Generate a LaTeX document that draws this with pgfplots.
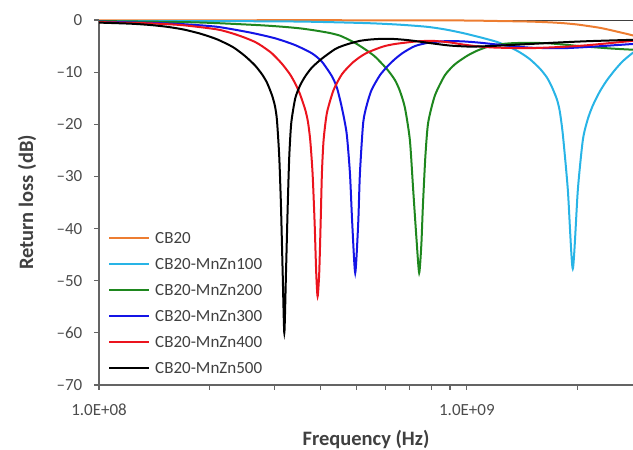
\documentclass[border=0pt]{standalone}
\usepackage{fontspec}
\setmainfont{Carlito}
\usepackage{pgfplots}
\pgfplotsset{compat=1.18}

\definecolor{cOrange}{RGB}{237,125,49}
\definecolor{cCyan}{RGB}{40,180,230}
\definecolor{cGreen}{RGB}{30,135,30}
\definecolor{cBlue}{RGB}{20,20,230}
\definecolor{cRed}{RGB}{235,20,30}
\definecolor{axgray}{RGB}{100,100,100}

\begin{document}
\begin{tikzpicture}
\begin{axis}[
    scale only axis,
    width=534pt, height=365pt,
    xmode=log,
    xmin=1e8, xmax=2.83e9,
    ymin=-70, ymax=0,
    clip=false,
    axis lines*=left,
    axis line style={axgray, line width=1.3pt},
    tick align=outside,
    major tick length=5pt, minor tick length=5pt,
    tick style={axgray, line width=1.2pt},
    xtick={1e8,1e9},
    xticklabels={1.0E+08,1.0E+09},
    minor xtick={2e8,3e8,4e8,5e8,6e8,7e8,8e8,9e8,2e9},
    ytick={-70,-60,-50,-40,-30,-20,-10,0},
    yticklabels={\textendash70,\textendash60,\textendash50,\textendash40,\textendash30,\textendash20,\textendash10,0},
    tick label style={/pgf/number format/assume math mode=true,
        font=\fontsize{17}{20}\selectfont, text=black!70, inner sep=0pt},
    xticklabel style={anchor=base, yshift=-26pt},
    yticklabel style={anchor=east, xshift=-11.5pt},
    xlabel={\textbf{Frequency (Hz)}},
    ylabel={\textbf{Return loss (dB)}},
    label style={font=\fontsize{20.5}{24}\selectfont, text=black!75, inner sep=0pt},
    xlabel style={at={(axis description cs:0.5,0)}, anchor=base, yshift=-60pt},
    ylabel style={at={(axis description cs:0,0.5)}, anchor=base, yshift=66pt},
    legend style={draw=none, fill=none, at={(axis description cs:0,0)},
        anchor=south west, xshift=9pt, yshift=-1.5pt, inner sep=0pt,
        row sep=0pt, column sep=5pt,
        font=\fontsize{17}{20}\selectfont, text=black!75,
        nodes={inner sep=0pt, text height=13pt, text depth=13pt}},
    legend cell align=left,
    legend image code/.code={\draw[#1] (0pt,5.5pt) -- (40pt,5.5pt);},
    every axis plot/.append style={line width=2pt, smooth, tension=0.4},
]
% zero line
\addplot[black!75, line width=0.9pt, sharp plot, forget plot]
    coordinates {(1e8,0) (2.9e9,0)};

% CB20
\addplot[cOrange] coordinates {
    (1e8,-0.05) (6.576e8,-0.05) (1e9,-0.1) (1.229e9,-0.2) (1.483e9,-0.3)
    (1.681e9,-0.45) (1.824e9,-0.6) (1.990e9,-0.85) (2.159e9,-1.2)
    (2.299e9,-1.5) (2.446e9,-1.9) (2.604e9,-2.35) (2.773e9,-2.8) (2.952e9,-3.3)
};
\addlegendentry{CB20}

% CB20-MnZn100
\addplot[cCyan] coordinates {
    (1e8,-0.2) (1.882e8,-0.2) (3.518e8,-0.3) (5.350e8,-0.6) (6.576e8,-0.9)
    (7.785e8,-1.3) (8.715e8,-1.8) (9.752e8,-2.5) (1.085e9,-3.3)
    (1.207e9,-4.2) (1.309e9,-5.2) (1.393e9,-6.2) (1.483e9,-7.5)
    (1.579e9,-9.3) (1.650e9,-11.0) (1.702e9,-12.8) (1.757e9,-15.2)
    (1.789e9,-17.5) (1.824e9,-22) (1.882e9,-32.6) (1.941e9,-47.7)
    (2.003e9,-32.6) (2.067e9,-23) (2.132e9,-19.0) (2.200e9,-16.4)
    (2.299e9,-13.7) (2.401e9,-11.6) (2.525e9,-9.6) (2.654e9,-7.9)
    (2.826e9,-6.3) (2.952e9,-5.6)
};
\addlegendentry{CB20-MnZn100}

% CB20-MnZn200
\addplot[cGreen] coordinates {
    (1e8,-0.2) (1.692e8,-0.4) (2.093e8,-0.6) (2.739e8,-1.0) (3.162e8,-1.3)
    (3.518e8,-1.6) (3.864e8,-2.0) (4.244e8,-2.5) (4.518e8,-3.0)
    (4.750e8,-3.7) (4.994e8,-4.5) (5.284e8,-5.6) (5.623e8,-7.0)
    (6.061e8,-9.4) (6.374e8,-11.5) (6.576e8,-13.6) (6.785e8,-16.8)
    (7.000e8,-23) (7.147e8,-32.6) (7.300e8,-42.2) (7.420e8,-48.5)
    (7.523e8,-43) (7.593e8,-35.8) (7.713e8,-26.2) (7.849e8,-19.7)
    (8.185e8,-14.5) (8.715e8,-10.6) (9.277e8,-8.5) (1.000e9,-6.9)
    (1.065e9,-5.9) (1.155e9,-5.0) (1.269e9,-4.55) (1.393e9,-4.4)
    (1.650e9,-4.45) (2.028e9,-5.0) (2.446e9,-5.45) (2.826e9,-5.7) (2.952e9,-5.75)
};
\addlegendentry{CB20-MnZn200}

% CB20-MnZn300
\addplot[cBlue] coordinates {
    (1e8,-0.3) (1.376e8,-0.55) (1.692e8,-0.8) (2.093e8,-1.3) (2.573e8,-2.4)
    (3.008e8,-3.5) (3.410e8,-4.8) (3.793e8,-6.4) (4.036e8,-8.0)
    (4.298e8,-10.8) (4.434e8,-13.0) (4.566e8,-16.6) (4.711e8,-21.7)
    (4.810e8,-29.4) (4.879e8,-38.9) (4.972e8,-48.5) (5.066e8,-38.9)
    (5.120e8,-29.4) (5.226e8,-19.7) (5.350e8,-16.2) (5.508e8,-13.4)
    (5.802e8,-10.6) (6.099e8,-8.8) (6.374e8,-7.5) (6.700e8,-6.3)
    (7.224e8,-5.0) (7.935e8,-4.3) (8.827e8,-4.05) (9.752e8,-4.1)
    (1.085e9,-4.35) (1.207e9,-4.7) (1.483e9,-5.3) (1.824e9,-5.4)
    (2.159e9,-5.15) (2.826e9,-4.6) (2.952e9,-4.5)
};
\addlegendentry{CB20-MnZn300}

% CB20-MnZn400
\addplot[cRed] coordinates {
    (1e8,-0.4) (1.376e8,-0.65) (1.692e8,-1.0) (2.093e8,-1.8) (2.313e8,-2.6)
    (2.493e8,-3.4) (2.654e8,-4.2) (2.773e8,-5.0) (2.952e8,-6.4)
    (3.143e8,-8.4) (3.304e8,-10.4) (3.416e8,-12.2) (3.518e8,-14.2)
    (3.636e8,-17.2) (3.698e8,-19.5) (3.751e8,-23) (3.807e8,-29.4)
    (3.856e8,-38.9) (3.895e8,-48.5) (3.929e8,-53) (3.969e8,-48.5)
    (4.004e8,-38.9) (4.036e8,-29.4) (4.079e8,-23) (4.165e8,-17.8)
    (4.343e8,-13.4) (4.575e8,-10.4) (4.870e8,-8.3) (5.120e8,-7.1)
    (5.383e8,-6.2) (5.912e8,-5.1) (6.374e8,-4.6) (7.314e8,-4.1)
    (8.083e8,-4.0) (8.992e8,-4.3) (9.752e8,-4.7) (1.085e9,-5.1)
    (1.207e9,-5.3) (1.483e9,-5.4) (1.824e9,-5.15) (2.159e9,-4.8)
    (2.826e9,-4.0) (2.952e9,-3.9)
};
\addlegendentry{CB20-MnZn400}

% CB20-MnZn500
\addplot[black] coordinates {
    (1e8,-0.5) (1.214e8,-0.7) (1.376e8,-0.95) (1.530e8,-1.3) (1.692e8,-1.8)
    (1.882e8,-2.6) (2.093e8,-3.7) (2.313e8,-5.2) (2.493e8,-6.9)
    (2.654e8,-8.7) (2.773e8,-10.4) (2.861e8,-12.0) (2.952e8,-14.4)
    (3.008e8,-16.5) (3.046e8,-19.2) (3.090e8,-26.2) (3.124e8,-35.8)
    (3.157e8,-48.5) (3.190e8,-60) (3.223e8,-48.5) (3.258e8,-35.8)
    (3.290e8,-26.2) (3.332e8,-19.7) (3.416e8,-15.0) (3.518e8,-12.6)
    (3.636e8,-10.8) (3.793e8,-9.1) (4.036e8,-7.4) (4.378e8,-5.6)
    (4.575e8,-5.0) (4.810e8,-4.5) (5.120e8,-4.0) (5.450e8,-3.75)
    (5.912e8,-3.6) (6.374e8,-3.65) (7.000e8,-3.9) (8.083e8,-4.5)
    (8.992e8,-4.9) (1.019e9,-5.1) (1.155e9,-5.0) (1.309e9,-4.8)
    (1.483e9,-4.6) (1.789e9,-4.3) (2.159e9,-4.05) (2.826e9,-3.8) (2.952e9,-3.8)
};
\addlegendentry{CB20-MnZn500}
\end{axis}
\pgfresetboundingbox
\path (current axis.south west) ++(-99pt,-65pt) rectangle ++(633pt,450pt);
\end{tikzpicture}
\end{document}
